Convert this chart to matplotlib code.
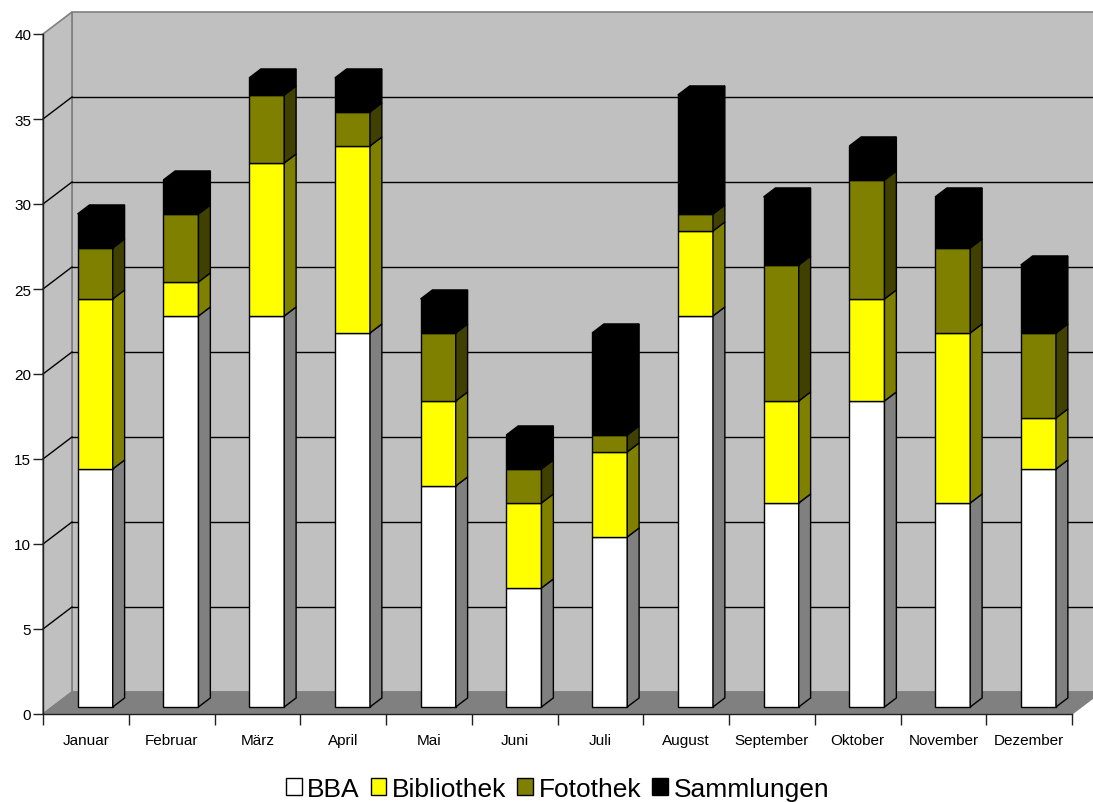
import numpy as np
import matplotlib
matplotlib.use("Agg")
import matplotlib.pyplot as plt
from matplotlib.patches import Polygon, Patch

plt.rcParams['font.family'] = ['Liberation Sans', 'DejaVu Sans']

months = ["Januar", "Februar", "März", "April", "Mai", "Juni",
          "Juli", "August", "September", "Oktober", "November", "Dezember"]
bba = [14, 23, 23, 22, 13, 7, 10, 23, 12, 18, 12, 14]
bibliothek = [10, 2, 9, 11, 5, 5, 5, 5, 6, 6, 10, 3]
fotothek = [3, 4, 4, 2, 4, 2, 1, 1, 8, 7, 5, 5]
sammlungen = [2, 2, 1, 2, 2, 2, 6, 7, 4, 2, 3, 4]

series = [("BBA", bba, "#ffffff", "#808080"),
          ("Bibliothek", bibliothek, "#ffff00", "#808000"),
          ("Fotothek", fotothek, "#808000", "#404000"),
          ("Sammlungen", sammlungen, "#000000", "#000000")]

# oblique depth of the plot box, in data units
DX, DY = 0.338, 1.294
f0, f1 = 0.32, 0.73      # bar front / back position in depth
W = 0.41
YMAX = 40

W_PX, H_PX = 1093, 803
fig = plt.figure(figsize=(W_PX / 100, H_PX / 100), dpi=100)
ax = fig.add_axes([43 / W_PX, (H_PX - 715) / H_PX, (1072 - 43) / W_PX, (715 - 35) / H_PX])
ax.set_facecolor("none")
ax.set_xlim(0, 12)
ax.set_ylim(0, YMAX)
n = len(months)

# walls and floor
back = Polygon([(DX, DY), (n + DX, DY), (n + DX, YMAX + DY), (DX, YMAX + DY)],
               closed=True, fc="#c0c0c0", ec="#808080", lw=1.2, zorder=0, clip_on=False)
left = Polygon([(0, 0), (DX, DY), (DX, YMAX + DY), (0, YMAX)],
               closed=True, fc="#c0c0c0", ec="#808080", lw=1.2, zorder=0, clip_on=False)
floor = Polygon([(0, 0), (n, 0), (n + DX, DY), (DX, DY)],
                closed=True, fc="#808080", ec="#808080", lw=1, zorder=0.6, clip_on=False)
for p in (back, left, floor):
    ax.add_patch(p)

for v in range(5, YMAX, 5):
    ax.plot([DX, n + DX], [v + DY, v + DY], color="#000000", lw=1, zorder=0.5, clip_on=False)
    ax.plot([0, DX], [v, v + DY], color="#000000", lw=1, zorder=0.5, clip_on=False)

x = np.arange(n) + 0.5
bottom = np.zeros(n)
d = f1 - f0
for k, (name, vals, front, side) in enumerate(series):
    vals = np.array(vals, dtype=float)
    ax.bar(x + f0 * DX, vals, W, bottom=bottom + f0 * DY, color=front,
           edgecolor="black", lw=1, zorder=3, label=name)
    for i in range(n):
        xr = x[i] + W / 2 + f0 * DX
        b = bottom[i] + f0 * DY
        t = b + vals[i]
        ax.add_patch(Polygon([(xr, b), (xr + d * DX, b + d * DY), (xr + d * DX, t + d * DY), (xr, t)],
                             closed=True, fc=side, ec="black", lw=1, zorder=3, clip_on=False))
        if k == len(series) - 1:
            xl = xr - W
            ax.add_patch(Polygon([(xl, t), (xr, t), (xr + d * DX, t + d * DY), (xl + d * DX, t + d * DY)],
                                 closed=True, fc=front, ec="black", lw=1, zorder=3, clip_on=False))
    bottom += vals

for s in ("top", "right"):
    ax.spines[s].set_visible(False)
for s in ("left", "bottom"):
    ax.spines[s].set_color("#202020")
    ax.spines[s].set_linewidth(1)
    ax.spines[s].set_zorder(4)

ax.set_yticks(range(0, YMAX + 1, 5))
ax.tick_params(axis="y", length=7, width=1, color="#202020", pad=1.5, labelsize=11)
ax.set_xticks(np.arange(n + 1))
ax.set_xticklabels([])
ax.tick_params(axis="x", which="major", length=8, width=1, color="#202020")
ax.set_xticks(x, minor=True)
ax.set_xticklabels(months, minor=True, fontsize=11)
ax.tick_params(axis="x", which="minor", length=0, pad=14)

handles = [Patch(fc=c, ec="black", lw=1) for _, _, c, _ in series]
fig.legend(handles, [s[0] for s in series], loc="center", bbox_to_anchor=(0.51, 0.016),
           ncol=4, frameon=False, fontsize=19, handlelength=0.6, handleheight=0.6,
           handletextpad=0.22, columnspacing=0.4, borderaxespad=0)

fig.savefig("out.png", dpi=100, facecolor="white")
